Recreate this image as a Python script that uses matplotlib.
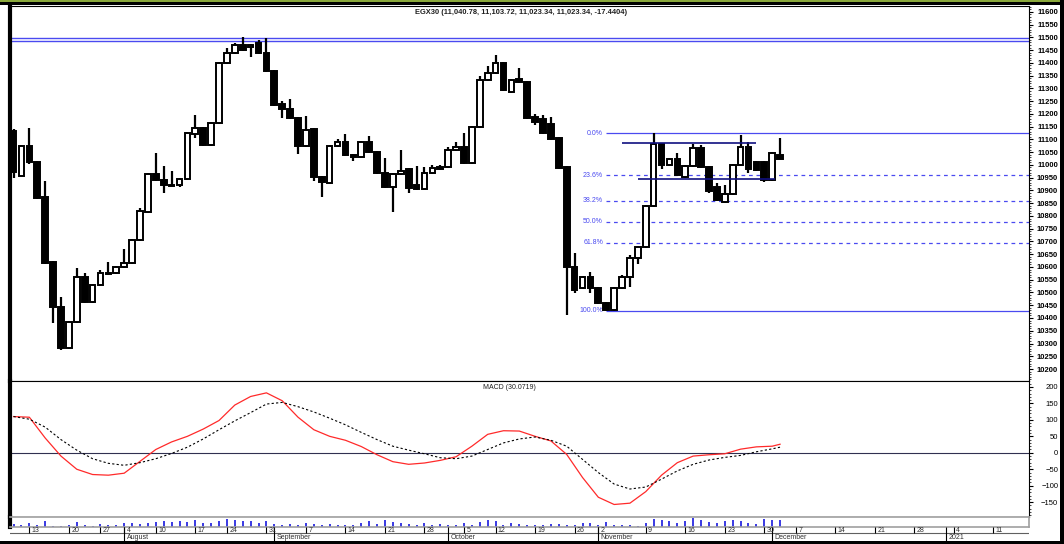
import matplotlib
matplotlib.use("Agg")
import matplotlib.pyplot as plt
from matplotlib.patches import Rectangle
from matplotlib.ticker import MultipleLocator
import numpy as np

plt.rcParams["font.family"] = ["Liberation Sans", "DejaVu Sans"]

# ---- EGX30 daily candles (Jul -> Dec 2020) ----
opens = [11133, 10957, 11076, 11012, 10874, 10620, 10443, 10282, 10384, 10561,
         10463, 10529, 10574, 10576, 10600, 10616, 10706, 10816, 10965, 10941,
         10923, 10921, 10945, 11122, 11145, 11078, 11165, 11400, 11439, 11471,
         11463, 11478, 11439, 11369, 11239, 11220, 11184, 11074, 11141, 10953,
         10929, 11074, 11090, 11039, 11031, 11090, 11051, 10969, 10914, 10965,
         10984, 10921, 10906, 10969, 10992, 10992, 11059, 11071, 11008, 11149,
         11333, 11361, 11400, 11286, 11337, 11325, 11188, 11180, 11161, 11106,
         10992, 10600, 10518, 10561, 10518, 10459, 10431, 10518, 10561, 10635,
         10678, 10839, 11082, 11000, 11023, 10953, 10996, 11067, 10992, 10914,
         10855, 10886, 11000, 11071, 11012, 11012, 10941, 11040.78]
highs = [11140, 11080, 11146, 11015, 10937, 10625, 10482, 10388, 10596, 10576,
         10535, 10590, 10620, 10605, 10670, 10710, 10831, 10970, 11047, 10996,
         10976, 10950, 11130, 11196, 11150, 11170, 11405, 11459, 11478, 11502,
         11475, 11490, 11498, 11372, 11250, 11259, 11188, 11192, 11145, 10957,
         11078, 11102, 11122, 11043, 11094, 11114, 11055, 11027, 10969, 11059,
         10988, 10996, 10992, 11000, 11000, 11071, 11090, 11125, 11153, 11349,
         11388, 11431, 11404, 11337, 11380, 11329, 11200, 11196, 11188, 11110,
         10996, 10655, 10565, 10580, 10522, 10463, 10522, 10568, 10645, 10682,
         10843, 11125, 11086, 11027, 11047, 11000, 11082, 11078, 10996, 10930,
         10921, 11004, 11118, 11090, 11016, 11016, 11051, 11103.72]
lows = [10949, 10955, 11005, 10865, 10610, 10380, 10274, 10278, 10380, 10460,
        10460, 10525, 10570, 10572, 10596, 10612, 10702, 10812, 10937, 10890,
        10918, 10915, 10941, 11106, 11074, 11074, 11160, 11396, 11435, 11447,
        11424, 11435, 11365, 11230, 11184, 11180, 11043, 11070, 10937, 10874,
        10925, 11070, 11035, 11016, 11027, 11047, 10965, 10910, 10816, 10961,
        10890, 10902, 10902, 10965, 10980, 10988, 11055, 11004, 11004, 11145,
        11329, 11357, 11290, 11282, 11321, 11180, 11157, 11120, 11098, 10984,
        10412, 10498, 10514, 10498, 10455, 10427, 10427, 10514, 10521, 10612,
        10674, 10835, 10984, 10996, 10957, 10949, 10992, 10988, 10890, 10859,
        10851, 10882, 10996, 10969, 10976, 10933, 10937, 11023.34]
closes = [10972, 11076, 11010, 10871, 10616, 10443, 10282, 10384, 10561, 10463,
          10529, 10576, 10578, 10600, 10616, 10706, 10820, 10965, 10941, 10921,
          10919, 10945, 11125, 11145, 11078, 11165, 11400, 11439, 11471, 11451,
          11471, 11439, 11369, 11235, 11220, 11184, 11074, 11137, 10953, 10933,
          11074, 11090, 11039, 11031, 11090, 11051, 10969, 10914, 10965, 10976,
          10910, 10906, 10969, 10988, 10984, 11059, 11071, 11008, 11149, 11333,
          11361, 11400, 11294, 11333, 11325, 11184, 11169, 11125, 11102, 10988,
          10600, 10510, 10561, 10518, 10459, 10431, 10518, 10561, 10635, 10678,
          10839, 11082, 11000, 11023, 10961, 10996, 11067, 10992, 10898, 10863,
          10886, 11000, 11071, 10984, 10980, 10941, 11047, 11023.34]
volume = [8, 4, 10, 5, 15, 2, 3, 6, 12, 4, 3, 8, 5, 6, 10, 10, 8, 10, 12, 14,
          12, 14, 12, 18, 10, 10, 14, 20, 18, 14, 14, 10, 14, 8, 6, 8, 6, 10, 8, 5,
          8, 6, 5, 6, 10, 14, 8, 16, 12, 10, 8, 6, 10, 6, 8, 6, 4, 10, 6, 12,
          16, 14, 6, 10, 8, 4, 6, 6, 8, 8, 6, 6, 10, 10, 6, 12, 4, 4, 4, 2,
          10, 20, 16, 14, 10, 14, 22, 16, 12, 10, 14, 18, 14, 10, 8, 20, 16, 18]

# MACD (read every second bar)
macd_idx = list(range(0, 97, 2)) + [97]
macd_line = [110, 108, 45, -10, -50, -66, -68, -62, -26, 10, 33, 50, 72, 98, 145,
             171, 182, 158, 108, 70, 50, 38, 19, -6, -27, -35, -31, -23, -12, 20,
             56, 67, 66, 50, 36, -5, -75, -135, -157, -153, -118, -68, -30, -10,
             -6, -3, 11, 18, 20, 26]
signal_line = [110, 102, 78, 40, 8, -18, -32, -38, -30, -18, -2, 17, 42, 70, 97,
               122, 148, 153, 140, 124, 105, 85, 62, 40, 20, 8, -3, -15, -18, -10,
               10, 30, 42, 48, 38, 20, -20, -60, -95, -110, -104, -80, -55, -35,
               -22, -14, -8, 3, 12, 17]

# horizontal levels
top_lines = [11497, 11484]
resistance = 11085
support = 10943
fib_high = 11125
fib_low = 10428
fib_ratios = [0.0, 0.236, 0.382, 0.5, 0.618, 1.0]

# date axis (bar index of each weekly tick / first bar of month)
day_pos = [2, 7, 11, 14, 18, 23, 27, 32, 37, 42, 47, 52, 57, 61, 66, 71, 74,
           80, 85, 90, 95, 99, 104, 109, 114, 119, 124]
day_labels = ["13", "20", "27", "4", "10", "17", "24", "31", "7", "14", "21", "28",
              "5", "12", "19", "26", "2", "9", "16", "23", "30", "7", "14", "21",
              "28", "4", "11"]
month_pos = [14, 33, 55, 74, 96, 118]
month_labels = ["August", "September", "October", "November", "December", "2021"]

W, H = 1064, 544
fig = plt.figure(figsize=(W / 100, H / 100), dpi=100)
fig.patch.set_facecolor("white")


def px_axes(x0, y0, x1, y1):
    return fig.add_axes([x0 / W, 1 - y1 / H, (x1 - x0) / W, (y1 - y0) / H])


XL, XR = 10, 1029
xlim = (-0.45, 128.5)
blue = "#4a4af0"

# ---- price panel ----
ax = px_axes(XL, 6, XR, 381)
ax.set_xlim(*xlim)
ax.set_ylim(10153, 11623)
n = len(opens)
x = np.arange(n)
bw = 0.72
ax.vlines(x, lows, highs, color="black", lw=1.6, zorder=3)
for i in range(n):
    o, c = opens[i], closes[i]
    up = c >= o
    lo, hi = min(o, c), max(o, c)
    ax.add_patch(Rectangle((i - bw / 2, lo), bw, max(hi - lo, 2),
                           facecolor="white" if up else "black",
                           edgecolor="black", lw=1.4, zorder=4))

for lv in top_lines:
    ax.axhline(lv, color=blue, lw=1.0, zorder=2)

fib_start = 75
rng = fib_high - fib_low
for r in fib_ratios:
    lv = fib_high - r * rng
    solid = r in (0.0, 1.0)
    ax.hlines(lv, fib_start, xlim[1], color=blue, lw=0.9,
              linestyles="-" if solid else (0, (3, 3)), zorder=2)
    ax.text(fib_start - 0.4, lv, f"{r * 100:.1f}%", color=blue, fontsize=5,
            ha="right", va="center")

ax.hlines(resistance, 77, 94, color="#101080", lw=1.2, zorder=5)
ax.hlines(support, 79, 96.3, color="#101080", lw=1.2, zorder=5)

ax.text(0.502, 0.982, "EGX30 (11,040.78, 11,103.72, 11,023.34, 11,023.34, -17.4404)",
        transform=ax.transAxes, ha="center", va="center", fontsize=5.4,
        fontweight="bold", color="#202020")

ax.yaxis.tick_right()
ax.yaxis.set_minor_locator(MultipleLocator(10))
ax.set_yticks(np.arange(10200, 11601, 50))
ax.tick_params(axis="y", which="major", length=3, width=0.8, pad=18, labelsize=5.5)
ax.tick_params(axis="y", which="minor", length=1.5, width=0.5)
for lab in ax.get_yticklabels():
    lab.set_fontweight("bold")
    lab.set_horizontalalignment("right")
ax.set_xticks([])
for s in ax.spines.values():
    s.set_linewidth(0.8)
ax.spines["left"].set_linewidth(3)

# ---- MACD panel ----
am = px_axes(XL, 381, XR, 517)
am.set_xlim(*xlim)
am.set_ylim(-195, 218)
am.axhline(0, color="#303050", lw=0.8)
am.plot(macd_idx, macd_line, color="#ff2a2a", lw=0.9)
am.plot(macd_idx, signal_line, color="black", lw=0.8, ls=(0, (2, 2)))
am.text(0.49, 0.955, "MACD (30.0719)", transform=am.transAxes, ha="center",
        va="center", fontsize=5, color="#202020")
am.yaxis.tick_right()
am.set_yticks(np.arange(-150, 201, 50))
am.yaxis.set_minor_locator(MultipleLocator(10))
am.tick_params(axis="y", which="major", length=3, width=0.8, pad=18, labelsize=5.5)
am.tick_params(axis="y", which="minor", length=1.5, width=0.5)
for lab in am.get_yticklabels():
    lab.set_horizontalalignment("right")
am.set_xticks([])
for s in am.spines.values():
    s.set_linewidth(0.8)
am.spines["left"].set_linewidth(3)

# ---- volume strip ----
av = px_axes(XL, 517, XR, 527)
av.set_xlim(*xlim)
av.set_ylim(0, 24)
av.vlines(x, 0, volume, color="#2a2ae0", lw=1.3)
av.set_xticks([])
av.set_yticks([])
for s in av.spines.values():
    s.set_color("#a0a0a0")
    s.set_linewidth(1.2)
av.spines["left"].set_color("black")
av.spines["left"].set_linewidth(3)

# ---- date axis ----
ad = px_axes(XL, 527, XR, 541)
ad.set_xlim(*xlim)
ad.set_ylim(0, 1)
ad.axis("off")
ad.axhline(0.55, color="#606060", lw=0.8)
for p, lab in zip(day_pos, day_labels):
    ad.vlines(p, 0.55, 1.0, color="black", lw=0.8)
    ad.text(p + 0.3, 0.78, lab, fontsize=5, ha="left", va="center", color="#303030")
for p, lab in zip(month_pos, month_labels):
    ad.vlines(p, 0.0, 1.0, color="black", lw=0.8)
    ad.text(p + 0.3, 0.25, lab, fontsize=5, ha="left", va="center", color="#303030")

# frame decorations
fig.add_artist(Rectangle((0, 1 - 5 / H), 1, 5 / H, transform=fig.transFigure,
                         facecolor="black", edgecolor="none"))
fig.add_artist(Rectangle((0, 1 - 1.5 / H), 1, 1.5 / H, transform=fig.transFigure,
                         facecolor="#8aa83c", edgecolor="none"))
fig.add_artist(Rectangle((0, 0), 1, 3 / H, transform=fig.transFigure,
                         facecolor="black", edgecolor="none"))
fig.add_artist(Rectangle((1 - 4 / W, 0), 4 / W, 1, transform=fig.transFigure,
                         facecolor="black", edgecolor="none"))

fig.savefig("out.png", dpi=100)
